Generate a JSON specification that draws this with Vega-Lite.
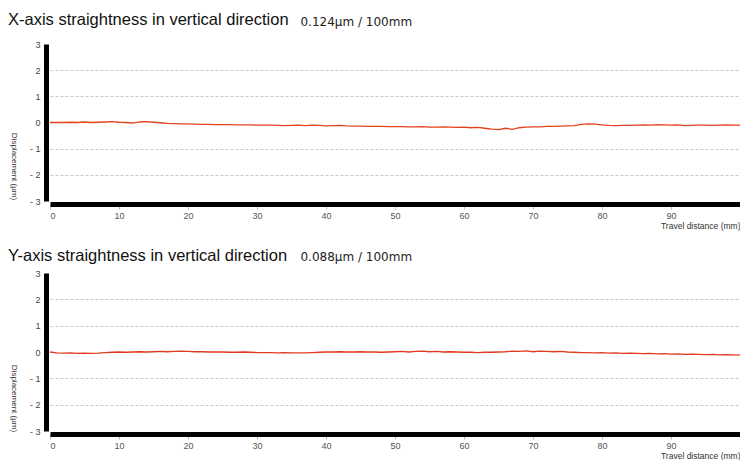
{
  "$schema": "https://vega.github.io/schema/vega-lite/v6.json",
  "background": "white",
  "padding": {"left": 8, "top": 12, "right": 0, "bottom": 0},
  "bounds": "flush",
  "spacing": 72,
  "config": {"view": {"stroke": null}, "font": "Liberation Sans"},
  "datasets": {
    "xstraight": [
      {"d":0,"v":0.00},{"d":1,"v":0.00},{"d":2,"v":0.00},{"d":3,"v":0.01},{"d":4,"v":0.00},{"d":5,"v":0.02},{"d":6,"v":0.00},{"d":7,"v":0.01},{"d":8,"v":0.02},{"d":9,"v":0.03},
      {"d":10,"v":0.01},{"d":11,"v":0.00},{"d":12,"v":-0.02},{"d":13,"v":0.02},{"d":14,"v":0.03},{"d":15,"v":0.01},{"d":16,"v":-0.01},{"d":17,"v":-0.03},{"d":18,"v":-0.04},{"d":19,"v":-0.05},
      {"d":20,"v":-0.05},{"d":21,"v":-0.06},{"d":22,"v":-0.07},{"d":23,"v":-0.07},{"d":24,"v":-0.08},{"d":25,"v":-0.08},{"d":26,"v":-0.08},{"d":27,"v":-0.09},{"d":28,"v":-0.09},{"d":29,"v":-0.09},
      {"d":30,"v":-0.10},{"d":31,"v":-0.10},{"d":32,"v":-0.10},{"d":33,"v":-0.11},{"d":34,"v":-0.12},{"d":35,"v":-0.11},{"d":36,"v":-0.10},{"d":37,"v":-0.12},{"d":38,"v":-0.10},{"d":39,"v":-0.11},
      {"d":40,"v":-0.13},{"d":41,"v":-0.12},{"d":42,"v":-0.11},{"d":43,"v":-0.13},{"d":44,"v":-0.14},{"d":45,"v":-0.14},{"d":46,"v":-0.15},{"d":47,"v":-0.15},{"d":48,"v":-0.15},{"d":49,"v":-0.16},
      {"d":50,"v":-0.16},{"d":51,"v":-0.16},{"d":52,"v":-0.17},{"d":53,"v":-0.17},{"d":54,"v":-0.16},{"d":55,"v":-0.18},{"d":56,"v":-0.18},{"d":57,"v":-0.17},{"d":58,"v":-0.18},{"d":59,"v":-0.19},
      {"d":60,"v":-0.18},{"d":61,"v":-0.20},{"d":62,"v":-0.19},{"d":63,"v":-0.22},{"d":64,"v":-0.25},{"d":65,"v":-0.27},{"d":66,"v":-0.22},{"d":67,"v":-0.26},{"d":68,"v":-0.20},{"d":69,"v":-0.18},
      {"d":70,"v":-0.17},{"d":71,"v":-0.17},{"d":72,"v":-0.15},{"d":73,"v":-0.15},{"d":74,"v":-0.14},{"d":75,"v":-0.13},{"d":76,"v":-0.12},{"d":77,"v":-0.07},{"d":78,"v":-0.05},{"d":79,"v":-0.06},
      {"d":80,"v":-0.09},{"d":81,"v":-0.11},{"d":82,"v":-0.12},{"d":83,"v":-0.11},{"d":84,"v":-0.11},{"d":85,"v":-0.10},{"d":86,"v":-0.09},{"d":87,"v":-0.10},{"d":88,"v":-0.08},{"d":89,"v":-0.09},
      {"d":90,"v":-0.10},{"d":91,"v":-0.09},{"d":92,"v":-0.12},{"d":93,"v":-0.11},{"d":94,"v":-0.10},{"d":95,"v":-0.10},{"d":96,"v":-0.11},{"d":97,"v":-0.10},{"d":98,"v":-0.09},{"d":99,"v":-0.10},{"d":100,"v":-0.10}
    ],
    "ystraight": [
      {"d":0,"v":0.00},{"d":1,"v":-0.03},{"d":2,"v":-0.04},{"d":3,"v":-0.03},{"d":4,"v":-0.05},{"d":5,"v":-0.04},{"d":6,"v":-0.05},{"d":7,"v":-0.04},{"d":8,"v":-0.02},{"d":9,"v":-0.01},
      {"d":10,"v":0.00},{"d":11,"v":-0.01},{"d":12,"v":0.00},{"d":13,"v":0.01},{"d":14,"v":0.00},{"d":15,"v":0.01},{"d":16,"v":0.02},{"d":17,"v":0.01},{"d":18,"v":0.02},{"d":19,"v":0.03},
      {"d":20,"v":0.02},{"d":21,"v":0.01},{"d":22,"v":0.01},{"d":23,"v":0.00},{"d":24,"v":0.00},{"d":25,"v":0.00},{"d":26,"v":-0.01},{"d":27,"v":-0.01},{"d":28,"v":0.00},{"d":29,"v":-0.01},
      {"d":30,"v":-0.02},{"d":31,"v":-0.02},{"d":32,"v":-0.02},{"d":33,"v":-0.03},{"d":34,"v":-0.02},{"d":35,"v":-0.03},{"d":36,"v":-0.03},{"d":37,"v":-0.03},{"d":38,"v":-0.02},{"d":39,"v":-0.01},
      {"d":40,"v":0.00},{"d":41,"v":0.00},{"d":42,"v":0.01},{"d":43,"v":0.00},{"d":44,"v":0.00},{"d":45,"v":0.01},{"d":46,"v":0.00},{"d":47,"v":0.00},{"d":48,"v":-0.01},{"d":49,"v":0.00},
      {"d":50,"v":0.01},{"d":51,"v":0.02},{"d":52,"v":0.00},{"d":53,"v":0.02},{"d":54,"v":0.03},{"d":55,"v":0.01},{"d":56,"v":0.02},{"d":57,"v":0.00},{"d":58,"v":0.01},{"d":59,"v":0.00},
      {"d":60,"v":-0.01},{"d":61,"v":-0.01},{"d":62,"v":-0.02},{"d":63,"v":-0.01},{"d":64,"v":-0.01},{"d":65,"v":0.00},{"d":66,"v":0.01},{"d":67,"v":0.03},{"d":68,"v":0.02},{"d":69,"v":0.04},
      {"d":70,"v":0.01},{"d":71,"v":0.03},{"d":72,"v":0.02},{"d":73,"v":0.01},{"d":74,"v":0.02},{"d":75,"v":0.00},{"d":76,"v":-0.01},{"d":77,"v":-0.02},{"d":78,"v":-0.02},{"d":79,"v":-0.03},
      {"d":80,"v":-0.02},{"d":81,"v":-0.04},{"d":82,"v":-0.03},{"d":83,"v":-0.05},{"d":84,"v":-0.04},{"d":85,"v":-0.05},{"d":86,"v":-0.06},{"d":87,"v":-0.05},{"d":88,"v":-0.07},{"d":89,"v":-0.06},
      {"d":90,"v":-0.08},{"d":91,"v":-0.07},{"d":92,"v":-0.09},{"d":93,"v":-0.08},{"d":94,"v":-0.09},{"d":95,"v":-0.10},{"d":96,"v":-0.09},{"d":97,"v":-0.11},{"d":98,"v":-0.10},{"d":99,"v":-0.11},{"d":100,"v":-0.12}
    ],
    "note1": [{"note": "0.124μm / 100mm"}],
    "note2": [{"note": "0.088μm / 100mm"}]
  },
  "vconcat": [
    {
      "width": 690,
      "height": 157,
      "title": {"text": "X-axis straightness in vertical direction", "anchor": "start", "frame": "group", "dx": -42, "fontSize": 16.5, "fontWeight": "normal", "color": "#111", "baseline": "alphabetic", "offset": -26},
      "layer": [
        {
          "data": {"name": "xstraight"},
          "mark": {"type": "line", "color": "#e4421d", "strokeWidth": 1.3},
          "encoding": {
            "x": {"field": "d", "type": "quantitative", "scale": {"domain": [0, 100], "nice": false, "zero": false},
              "axis": {"values": [0,10,20,30,40,50,60,70,80,90], "tickCount": 20, "format": "d", "title": "Travel distance (mm)", "titleAnchor": "end", "titleAlign": "right", "titleFontSize": 8.5, "titleFontWeight": "normal", "titleColor": "#333", "titlePadding": 1, "domainColor": "black", "domainWidth": 5, "offset": 3, "tickColor": "#bbbbbb", "tickSize": 5, "tickWidth": 1, "labelFontSize": 9, "labelColor": "#555", "labelPadding": 2, "labelOverlap": false, "grid": false}},
            "y": {"field": "v", "type": "quantitative", "scale": {"domain": [-3, 3], "nice": false},
              "axis": {"values": [-3,-2,-1,0,1,2,3], "tickCount": 12, "format": "d", "title": "Displacement (μm)", "titleAngle": 90, "titleX": -33, "titleY": 122, "titleAlign": "center", "titleBaseline": "middle", "titleFontSize": 8, "titleFontWeight": "normal", "titleColor": "#333", "domainColor": "black", "domainWidth": 5, "offset": 4, "ticks": false, "labelPadding": 6, "labelFontSize": 9, "labelColor": "#444", "labelOverlap": false, "labelExpr": "datum.value < 0 ? '- ' + abs(datum.value) : datum.label", "grid": true, "gridDash": [3, 2], "gridColor": "#d2c4c0", "gridWidth": 1, "gridOpacity": {"condition": {"test": "abs(datum.value) == 3 || datum.value == 0", "value": 0}, "value": 1}}}
          }
        },
        {
          "data": {"name": "note1"},
          "mark": {"type": "text", "align": "left", "baseline": "alphabetic", "fontSize": 12, "font": "DejaVu Sans", "color": "#222"},
          "encoding": {
            "x": {"datum": 36.3, "type": "quantitative"},
            "y": {"datum": 3.69, "type": "quantitative"},
            "text": {"field": "note", "type": "nominal"}
          }
        }
      ]
    },
    {
      "width": 690,
      "height": 158,
      "title": {"text": "Y-axis straightness in vertical direction", "anchor": "start", "frame": "group", "dx": -42, "fontSize": 16.5, "fontWeight": "normal", "color": "#111", "baseline": "alphabetic", "offset": -26},
      "layer": [
        {
          "data": {"name": "ystraight"},
          "mark": {"type": "line", "color": "#e13b1f", "strokeWidth": 1.3},
          "encoding": {
            "x": {"field": "d", "type": "quantitative", "scale": {"domain": [0, 100], "nice": false, "zero": false},
              "axis": {"values": [0,10,20,30,40,50,60,70,80,90], "tickCount": 20, "format": "d", "title": "Travel distance (mm)", "titleAnchor": "end", "titleAlign": "right", "titleFontSize": 8.5, "titleFontWeight": "normal", "titleColor": "#333", "titlePadding": 1, "domainColor": "black", "domainWidth": 5, "offset": 3, "tickColor": "#bbbbbb", "tickSize": 5, "tickWidth": 1, "labelFontSize": 9, "labelColor": "#555", "labelPadding": 2, "labelOverlap": false, "grid": false}},
            "y": {"field": "v", "type": "quantitative", "scale": {"domain": [-3, 3], "nice": false},
              "axis": {"values": [-3,-2,-1,0,1,2,3], "tickCount": 12, "format": "d", "title": "Displacement (μm)", "titleAngle": 90, "titleX": -33, "titleY": 125, "titleAlign": "center", "titleBaseline": "middle", "titleFontSize": 8, "titleFontWeight": "normal", "titleColor": "#333", "domainColor": "black", "domainWidth": 5, "offset": 4, "ticks": false, "labelPadding": 6, "labelFontSize": 9, "labelColor": "#444", "labelOverlap": false, "labelExpr": "datum.value < 0 ? '- ' + abs(datum.value) : datum.label", "grid": true, "gridDash": [3, 2], "gridColor": "#d2c4c0", "gridWidth": 1, "gridOpacity": {"condition": {"test": "abs(datum.value) == 3 || datum.value == 0", "value": 0}, "value": 1}}}
          }
        },
        {
          "data": {"name": "note2"},
          "mark": {"type": "text", "align": "left", "baseline": "alphabetic", "fontSize": 12, "font": "DejaVu Sans", "color": "#222"},
          "encoding": {
            "x": {"datum": 36.3, "type": "quantitative"},
            "y": {"datum": 3.45, "type": "quantitative"},
            "text": {"field": "note", "type": "nominal"}
          }
        }
      ]
    }
  ]
}
